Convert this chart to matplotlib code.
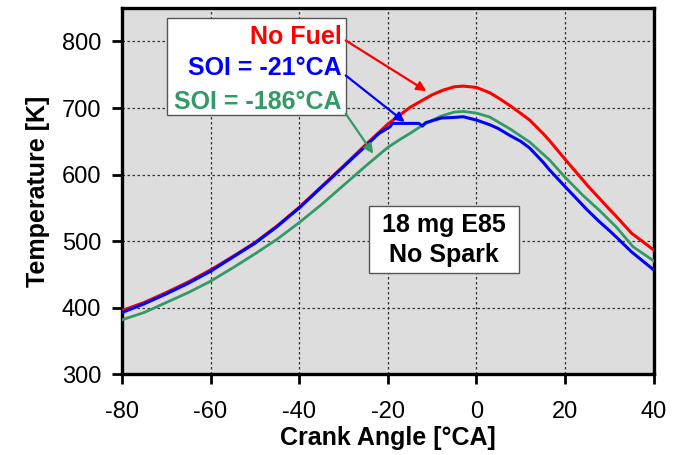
import matplotlib
matplotlib.use("Agg")
import matplotlib.pyplot as plt
from matplotlib.patches import Rectangle

plt.rcParams['font.family'] = ['Liberation Sans', 'DejaVu Sans']
plt.rcParams['axes.unicode_minus'] = False

# ---- data ----
red_x = [-80, -75, -70, -65, -60, -55, -50, -45, -40, -35, -30, -25, -20, -15, -10, -7.5, -5, -3, 0, 3, 5, 7.5, 10, 12, 15, 16.5, 20, 24, 25, 27.8, 30, 31.6, 35, 40]
red_y = [396, 408, 423, 439, 457, 477, 498, 523, 551, 582, 613, 645, 676, 701, 720, 727, 732, 733, 731, 723, 715, 704, 692, 682, 662, 651, 623, 592, 584, 564, 548, 537, 512, 487]

blue_x = [-80, -75, -70, -65, -60, -55, -50, -45, -40, -35, -30, -25, -22, -20, -19.5, -19, -17, -15, -13, -12.2, -11.5, -10, -8, -5, -3, 0, 3, 5, 7.5, 10, 12, 15, 16.5, 20, 24, 25, 27.8, 30, 31.6, 35, 40]
blue_y = [393, 406, 421, 437, 455, 476, 497, 522, 550, 581, 612, 643, 662, 670, 672, 677, 677, 677, 677, 673, 678, 681, 685, 686, 687, 682, 675, 669, 659, 650, 640, 619, 607, 582, 554, 547, 529, 516, 506, 484, 457]

green_x = [-80, -75, -70, -65, -60, -55, -50, -45, -40, -35, -30, -25, -20, -17, -15, -12, -8, -5, -3, 0, 3, 7.5, 12, 16.5, 20, 24, 27.8, 31.6, 35.3, 40]
green_y = [382, 393, 408, 423, 440, 460, 481, 503, 528, 555, 584, 613, 641, 654, 662, 675, 688, 694, 695, 692.5, 686.5, 669, 649, 622, 596, 569, 546, 521, 492, 470.5]

series_labels = ["No Fuel", "SOI = -21\u00b0CA", "SOI = -186\u00b0CA"]
series_colors = ["#FF0000", "#0000FF", "#339966"]
note_text = "18 mg E85\nNo Spark"

x_ticks = [-80, -60, -40, -20, 0, 20, 40]
y_ticks = [300, 400, 500, 600, 700, 800]

# ---- figure ----
fig = plt.figure(figsize=(6.81, 4.55), dpi=100)
ax = fig.add_axes([0.179, 0.177, 0.781, 0.805])
ax.set_facecolor("#DDDDDD")

ax.plot(red_x, red_y, color=series_colors[0], lw=2.2, zorder=3, solid_joinstyle='round')
ax.plot(green_x, green_y, color=series_colors[2], lw=2.0, zorder=3, solid_joinstyle='round')
ax.plot(blue_x, blue_y, color=series_colors[1], lw=2.2, zorder=4, solid_joinstyle='round')

ax.set_xlim(-80, 40)
ax.set_ylim(300, 850)
ax.set_xticks(x_ticks)
ax.set_yticks(y_ticks)
ax.tick_params(axis='both', direction='out', length=7, width=2, labelsize=17, color='black')
ax.tick_params(axis='x', pad=12)
ax.tick_params(axis='y', pad=8)
for s in ax.spines.values():
    s.set_linewidth(2.4)
    s.set_color('black')
ax.grid(True, color='#333333', linestyle=(0, (2, 2)), lw=0.9, zorder=1)
ax.set_axisbelow(True)

ax.set_xlabel("Crank Angle [\u00b0CA]", fontsize=18, fontweight='bold', labelpad=2)
ax.set_ylabel("Temperature [K]", fontsize=18, fontweight='bold', labelpad=8)

# legend-like box with arrows
ax.add_patch(Rectangle((-69.85, 689), 40.35, 146.5, facecolor='white', edgecolor='#555555', lw=1.0, zorder=5))
text_base = [796.5, 749, 699]
for lab, col, yb in zip(series_labels, series_colors, text_base):
    ax.text(-30.4, yb, lab, color=col, fontsize=18, fontweight='bold', ha='right', va='baseline', zorder=6)

arrow_specs = [((-29.5, 801.5), (-11.3, 725.5)),
               ((-29.5, 749), (-16.2, 679)),
               ((-29.5, 691.5), (-23.3, 631.5))]
for (start, end), col in zip(arrow_specs, series_colors):
    ax.annotate("", xy=end, xytext=start,
                arrowprops=dict(arrowstyle='-|>', color=col, lw=1.6, mutation_scale=14,
                                shrinkA=0, shrinkB=0), zorder=5)

# note box
ax.add_patch(Rectangle((-24.2, 453), 33.8, 100, facecolor='white', edgecolor='#555555', lw=1.0, zorder=5))
lines = note_text.split("\n")
for line, yb in zip(lines, [514, 469]):
    ax.text(-7.3, yb, line, color='black', fontsize=18, fontweight='bold', ha='center', va='baseline', zorder=6)

fig.savefig("out.png", dpi=100)
